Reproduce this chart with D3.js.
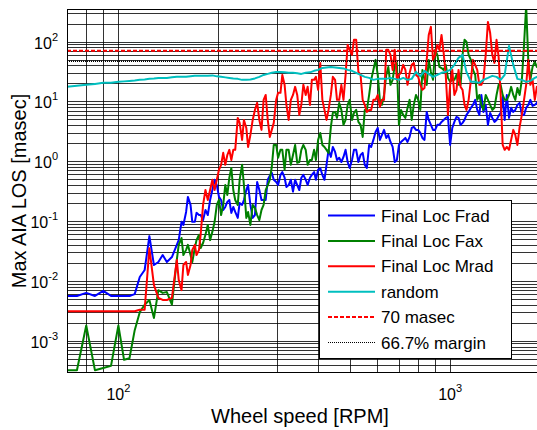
<!DOCTYPE html>
<html><head><meta charset="utf-8">
<script src="https://cdn.jsdelivr.net/npm/d3@7"></script>
<style>body{margin:0;background:#fff}svg{display:block;font-family:"Liberation Sans",Arial,sans-serif}</style>
</head><body><svg id="c" width="537" height="430"></svg>
<script>
// Wheel speed [RPM] - main sample grid
const rpm = [70,75,80,85,90,95,100,
 104,108,112,116,120,124,128,132,136,140,
 145,150,155,160,165,170,175,180,
 186,192,198,204,210,216,222,
 229,236,243,250,258,266,274,282,290,
 299,308,317,326,336,346,356,367,378,389,400,
 412,424,437,450,463,477,491,506,521,537,
 553,570,587,605,623,642,661,681,701,722,
 744,766,789,813,837,862,888,915,942,970,1000,
 1030,1060,1090,1120,1155,1190,1225,1260,1300,
 1340,1380,1420,1460,1505,1550,1595,1645,1695,1745,1800,1850];

const fradVals = [0.0056,0.0056,0.0063,0.0056,0.0068,0.0056,0.0056,
 0.0056,0.0056,0.0060,0.0116,0.0152,0.056,0.0184,0.0207,0.027,0.0207,
 0.025,0.040,0.097,0.142,0.186,0.097,0.126,0.104,
 0.126,0.33,0.40,0.225,0.172,0.225,0.172,
 0.113,0.186,0.33,0.186,0.126,0.33,0.225,0.49,0.64,
 0.45,0.59,0.53,0.40,0.31,0.40,0.53,0.49,0.53,0.66,0.72,
 0.59,0.87,1.18,1.43,1.14,1.18,0.97,1.05,1.55,1.27,
 0.87,1.87,2.27,3.6,2.75,2.45,2.1,0.97,1.87,2.27,
 2.1,3.6,3.34,2.97,2.27,4.9,3.34,4.05,4.54,5.3,1.87,
 4.54,5.3,4.37,5.95,7.8,10.6,5.95,6.67,4.05,
 5.3,4.9,6.42,4.9,5.3,6.67,8.74,5.95,7.8,10.6,8.74,10.6];

const faxVals = [3.2e-4,3.2e-4,0.0018,3.2e-4,3.5e-4,3.8e-4,0.0018,
 4.8e-4,5.1e-4,0.0015,0.0030,0.0040,0.0048,0.0024,0.0070,0.0063,0.0065,
 0.0040,0.0224,0.052,0.033,0.027,0.0355,0.059,0.043,
 0.086,0.066,0.186,0.126,0.40,0.53,0.33,
 0.186,0.87,0.113,0.086,0.166,0.104,0.186,0.40,0.80,
 1.87,1.55,0.72,1.55,1.27,0.94,1.55,1.55,1.05,1.55,2.27,
 1.87,1.55,3.75,6.67,9.4,4.05,8.74,4.9,7.2,4.05,
 7.2,12.8,33.6,27.7,8.74,27.7,18.9,40.8,4.05,5.95,
 7.8,4.9,12.8,7.2,22.9,49.4,22.9,60,36,40.8,21.2,
 22.9,18.9,60,99,49.4,27.7,12.8,7.2,10.6,
 7.2,12.8,18.9,10.6,12.8,12.8,16.8,22.9,400,22.9,45.8,40.8];

const mradVals = [0.0031,0.0031,0.0031,0.0031,0.0031,0.0031,0.0031,
 0.0031,0.0031,0.0031,0.0033,0.0033,0.035,0.0085,0.0052,0.0048,0.0048,
 0.0052,0.0224,0.0070,0.0207,0.0184,0.040,0.033,0.186,
 0.225,0.49,0.49,0.87,0.87,1.55,1.55,
 5.3,2.27,3.6,2.75,7.2,4.9,10.6,4.9,3.34,
 10.6,13.9,18.9,4.9,12.8,12.8,8.74,12.8,8.74,22.9,15.6,
 10.6,4.9,12.8,22.9,10.6,10.6,88,60,107,27.7,
 8.74,7.2,10.6,12.8,10.6,72.6,60,72.6,27.7,40.8,
 18.9,40.8,27.7,18.9,16.8,129,49.4,88,129,27.7,18.9,
 12.8,33.6,15.6,7.2,22.9,40.8,18.9,22.9,213,
 60,107,12.8,1.55,1.55,3.34,1.87,5.95,18.9,18.9,10.6,15.6];

const randomVals = [17.5,18.2,18.9,19.6,20.4,20.4,21.2,
 21.6,22.0,22.4,22.9,23.3,23.8,24.2,24.7,24.7,24.7,
 25.2,25.7,25.7,25.7,26.2,26.7,26.7,26.7,
 26.7,27.2,26.2,25.7,25.2,24.7,24.2,
 23.8,22.9,22.9,23.3,24.2,25.7,27.7,28.8,30.0,
 31.1,31.1,30.6,30.0,30.0,29.4,28.8,30.0,30.6,32.4,33.6,
 36.3,37.0,37.7,37.0,36.3,35.6,33.6,32.4,30.0,27.7,
 25.7,24.7,22.9,23.8,23.8,23.8,24.7,23.8,22.9,24.7,
 22.9,23.8,31.1,26.2,32.4,28.8,25.7,27.7,30.0,31.1,33.6,
 40.8,53.4,59.9,31.1,21.2,21.2,20.4,22.9,24.7,
 26.7,25.7,22.9,27.7,84.6,40.8,23.8,22.9,21.2,22.0,24.7,26.7];

// extra samples between the grid points in the noisy range
const rpmMid = [152,157,162,167,172,177,183,189,195,201,207,213,219,225,
 232,239,246,254,262,270,278,286,294,
 303,312,321,331,341,351,361,372,383,394,406,
 418,430,443,456,470,484,498,513,529,545,
 561,578,596,614,632,651,671,691,711,733,
 755,777,801,825,850,875,901,928,956,985,
 1015,1045,1075,1105,1137,1172,1207,1242,1280,
 1320,1360,1400,1440,1482,1527,1572,1620,1670,1720,1772,1825];

const fradMid = [0.048,0.086,0.253,0.097,0.137,0.126,0.153,0.225,0.49,0.253,0.153,0.209,0.137,0.142,
 0.201,0.225,0.40,0.113,0.45,0.225,0.225,0.57,0.49,
 0.40,0.66,0.37,0.49,0.49,0.33,0.59,0.40,0.59,0.49,0.77,
 0.49,1.55,1.73,1.05,0.97,1.55,0.77,1.55,0.97,1.38,
 0.77,1.73,3.09,2.27,3.34,2.75,1.73,1.05,2.1,2.45,
 2.55,3.75,3.34,2.45,6.67,4.05,3.34,4.05,4.9,5.5,
 3.6,5.5,4.05,4.9,6.67,8.74,7.2,12.8,8.74,
 6.42,4.54,5.72,11.9,12.8,7.8,7.2,9.44,5.95,8.74,8.4,9.44];

const faxMid = [0.040,0.027,0.040,0.0207,0.048,0.0355,0.059,0.048,0.097,0.225,0.186,0.273,0.77,0.225,
 0.49,0.40,0.142,0.186,0.126,0.153,0.33,0.49,1.87,
 1.14,1.55,1.55,0.87,1.87,0.97,1.87,0.87,1.05,1.05,2.97,
 1.73,1.38,6.42,5.3,7.2,4.9,10.6,6.42,4.54,2.55,
 7.2,22.9,49.4,10.6,12.8,37.7,22.9,44.0,7.2,5.3,
 10.6,8.74,10.6,33.6,18.9,31.1,72.6,37.7,33.6,24.7,
 22.9,27.7,18.9,107,60,33.6,10.6,8.74,12.8,
 8.74,7.8,18.9,12.8,10.6,17.5,10.6,12.8,88,49.4,37.7,37.7];

const mradMid = [0.0104,0.0184,0.0126,0.033,0.027,0.059,0.33,0.33,0.33,0.72,1.38,1.27,1.05,1.55,
 4.37,4.9,1.73,4.9,9.44,3.34,12.8,2.55,4.37,
 13.9,27.7,8.74,10.6,17.5,5.95,18.9,17.5,22.9,25.7,44.0,
 7.2,7.2,25.7,10.6,18.9,27.7,72.6,107,31.1,10.6,
 6.67,7.2,10.6,8.1,10.6,72.6,33.6,22.9,30.0,33.6,
 30.0,44.0,25.7,15.6,49.4,176,60,72.6,64.7,5.95,
 33.6,15.6,17.5,8.74,10.6,49.4,33.6,18.9,60,
 140,44.0,55.5,1.87,1.73,2.27,2.75,3.75,10.6,49.4,22.9,17.5];

const limitLevel = 70;      // 70 masec
const marginLevel = 46.67;  // 66.7% margin
const xTickVals = [100, 1000];
const xTickExp = ["2", "3"];
const yTickVals = [1e-3, 1e-2, 1e-1, 1, 10, 100];
const yTickExp = ["-3", "-2", "-1", "0", "1", "2"];
const legendLabels = ["Final Loc Frad", "Final Loc Fax", "Final Loc Mrad", "random", "70 masec", "66.7% margin"];

function merge(vals, mids) {
  const pts = rpm.map((r, i) => [r, vals[i]]);
  if (mids) rpmMid.forEach((r, i) => pts.push([r, mids[i]]));
  return pts.sort((a, b) => a[0] - b[0]);
}

const P = {left: 67, top: 9, right: 550, bottom: 372};
const x = d3.scaleLog().domain([70, 2000]).range([P.left, P.right]);
const y = d3.scaleLog().domain([3e-4, 350]).range([P.bottom, P.top]);
const svg = d3.select('#c');
svg.append('rect').attr('width', 537).attr('height', 430).attr('fill', '#fff');

// grid
const grid = svg.append('g').attr('stroke', '#000').attr('stroke-opacity', 0.8)
  .attr('stroke-width', 1).attr('shape-rendering', 'crispEdges');
y.ticks().forEach(t => grid.append('line').attr('x1', P.left).attr('x2', P.right)
  .attr('y1', Math.round(y(t)) + 0.5).attr('y2', Math.round(y(t)) + 0.5));
x.ticks().forEach(t => grid.append('line').attr('y1', P.top).attr('y2', P.bottom)
  .attr('x1', Math.round(x(t)) + 0.5).attr('x2', Math.round(x(t)) + 0.5));

svg.append('clipPath').attr('id', 'clip').append('rect')
  .attr('x', P.left).attr('y', P.top).attr('width', P.right - P.left).attr('height', P.bottom - P.top);
const plot = svg.append('g').attr('clip-path', 'url(#clip)');

const line = d3.line().x(d => x(d[0])).y(d => y(d[1]));
const series = [
  {pts: merge(fradVals, fradMid), color: '#0000ff'},
  {pts: merge(faxVals, faxMid), color: '#008000'},
  {pts: merge(mradVals, mradMid), color: '#ff0000'},
  {pts: merge(randomVals, null), color: '#00bfbf'}
];
series.forEach(s => plot.append('path').datum(s.pts).attr('d', line)
  .attr('fill', 'none').attr('stroke', s.color).attr('stroke-width', 2).attr('stroke-linejoin', 'round'));

plot.append('line').attr('x1', P.left).attr('x2', P.right).attr('y1', y(limitLevel)).attr('y2', y(limitLevel))
  .attr('stroke', '#ff0000').attr('stroke-width', 2).attr('stroke-dasharray', '4,2');
plot.append('line').attr('x1', P.left).attr('x2', P.right).attr('y1', y(marginLevel)).attr('y2', y(marginLevel))
  .attr('stroke', '#000').attr('stroke-width', 1.5).attr('stroke-dasharray', '1,1');

// axes box
const box = svg.append('g').attr('stroke', '#000').attr('stroke-width', 1).attr('shape-rendering', 'crispEdges');
box.append('line').attr('x1', P.left + 0.5).attr('x2', P.left + 0.5).attr('y1', P.top).attr('y2', P.bottom);
box.append('line').attr('x1', P.left).attr('x2', P.right).attr('y1', P.top + 0.5).attr('y2', P.top + 0.5);
box.append('line').attr('x1', P.left).attr('x2', P.right).attr('y1', P.bottom + 0.5).attr('y2', P.bottom + 0.5);

// tick labels
function expLabel(g, tx, ty, anchor, exp) {
  const t = g.append('text').attr('x', tx).attr('y', ty).attr('text-anchor', anchor)
    .attr('font-size', 16).attr('fill', '#000');
  t.append('tspan').text('10');
  t.append('tspan').attr('dy', -8).attr('font-size', 11).text(exp);
}
xTickVals.forEach((v, i) => expLabel(svg, x(v), 400, 'middle', xTickExp[i]));
yTickVals.forEach((v, i) => expLabel(svg, 58, y(v) + 7, 'end', yTickExp[i]));

svg.append('text').attr('x', 300).attr('y', 423).attr('text-anchor', 'middle')
  .attr('font-size', 20).text('Wheel speed [RPM]');
svg.append('text').attr('transform', 'translate(26,191) rotate(-90)').attr('text-anchor', 'middle')
  .attr('font-size', 20).text('Max AIA LOS [masec]');

// legend
const lg = svg.append('g');
lg.append('rect').attr('x', 319.5).attr('y', 200.5).attr('width', 192).attr('height', 158)
  .attr('fill', '#fff').attr('stroke', '#000').attr('stroke-width', 1);
const legStyles = [
  {c: '#0000ff', w: 2, d: null}, {c: '#008000', w: 2, d: null}, {c: '#ff0000', w: 2, d: null},
  {c: '#00bfbf', w: 2, d: null}, {c: '#ff0000', w: 2, d: '4,2'}, {c: '#000', w: 1, d: '1,1'}
];
legendLabels.forEach((lab, i) => {
  const cy = 215.5 + i * 25.4;
  const l = lg.append('line').attr('x1', 328).attr('x2', 375).attr('y1', cy).attr('y2', cy)
    .attr('stroke', legStyles[i].c).attr('stroke-width', legStyles[i].w);
  if (legStyles[i].d) l.attr('stroke-dasharray', legStyles[i].d);
  lg.append('text').attr('x', 381).attr('y', cy + 6).attr('font-size', 17).text(lab);
});
</script></body></html>
